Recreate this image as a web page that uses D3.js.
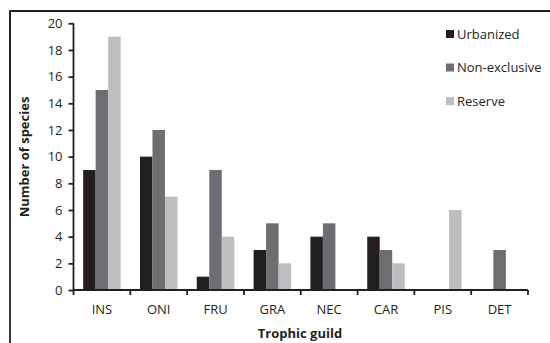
<!DOCTYPE html>
<html><head><meta charset="utf-8">
<script src="https://cdn.jsdelivr.net/npm/d3@7"></script>
<style>body{margin:0;background:#fff}svg{display:block}text{font-family:"Open Sans",sans-serif;fill:#231f20}</style>
</head><body><svg id="c" width="550" height="343"></svg>
<script>
const categories = ["INS","ONI","FRU","GRA","NEC","CAR","PIS","DET"];
const seriesNames = ["Urbanized","Non-exclusive","Reserve"];
const urbanized = [9,10,1,3,4,4,0,0];
const nonExclusive = [15,12,9,5,5,3,0,3];
const reserve = [19,7,4,2,0,2,6,0];
const yTicks = [0,2,4,6,8,10,12,14,16,18,20];
const colors = ["#231f20","#6d6e71","#bcbec0"];
const values = [urbanized, nonExclusive, reserve];

const svg = d3.select("#c");
// outer frame (top & left visible)
svg.append("path").attr("d","M10,200 L10,11 L550,11").attr("fill","none").attr("stroke","#231f20").attr("stroke-width",1.8);
svg.append("line").attr("x1",10).attr("x2",10).attr("y1",11).attr("y2",343).attr("stroke","#231f20").attr("stroke-width",1.8);

const x0 = d3.scaleBand().domain(categories).range([73.5,528]).paddingInner(0.34).paddingOuter(0.17);
const x1 = d3.scaleBand().domain(seriesNames).range([0,x0.bandwidth()]);
const y = d3.scaleLinear().domain([0,20]).range([290,23.3]);

const g = svg.append("g");
seriesNames.forEach((s,si)=>{
  g.selectAll(null).data(categories).enter().append("rect")
    .attr("x",d=>x0(d)+x1(s))
    .attr("width",x1.bandwidth())
    .attr("y",(d,i)=>y(values[si][i]))
    .attr("height",(d,i)=>y(0)-y(values[si][i]))
    .attr("fill",colors[si]);
});

// y axis
const ya = svg.append("g").attr("transform","translate(73.5,0)")
  .call(d3.axisLeft(y).tickValues(yTicks).tickSize(5).tickPadding(6));
ya.select(".domain").attr("stroke","#231f20").attr("stroke-width",1.8).attr("d","M0,23.3V290");
ya.selectAll(".tick line").attr("stroke","#231f20").attr("stroke-width",1.8);
ya.selectAll(".tick text").style("font-size","13px").style("font-family","Open Sans").attr("fill","#231f20");

// x axis
const xb = d3.scaleLinear().domain([0,categories.length]).range([73.5,528]);
const xa = svg.append("g").attr("transform","translate(0,290)");
xa.append("line").attr("x1",73.5).attr("x2",528).attr("stroke","#231f20").attr("stroke-width",1.8);
xa.selectAll(".tk").data(d3.range(categories.length+1)).enter().append("line")
  .attr("x1",d=>xb(d)).attr("x2",d=>xb(d)).attr("y1",0).attr("y2",5)
  .attr("stroke","#231f20").attr("stroke-width",1.8);
xa.selectAll(".lb").data(categories).enter().append("text")
  .attr("x",d=>x0(d)+x0.bandwidth()/2).attr("y",24)
  .attr("text-anchor","middle").style("font-size","13px").text(d=>d);

// axis titles
svg.append("text").attr("x",300).attr("y",338).attr("text-anchor","middle")
  .style("font-size","13px").style("font-weight","bold").text("Trophic guild");
svg.append("text").attr("transform","translate(29,157) rotate(-90)").attr("text-anchor","middle")
  .style("font-size","13px").style("font-weight","bold").text("Number of species");

// legend
const lg = svg.append("g");
seriesNames.forEach((s,i)=>{
  const ly = 34 + i*33.5;
  lg.append("rect").attr("x",446).attr("y",ly-4).attr("width",8).attr("height",8).attr("fill",colors[i]);
  lg.append("text").attr("x",457).attr("y",ly).attr("dy","0.35em").style("font-size","13px").text(s);
});
</script></body></html>
